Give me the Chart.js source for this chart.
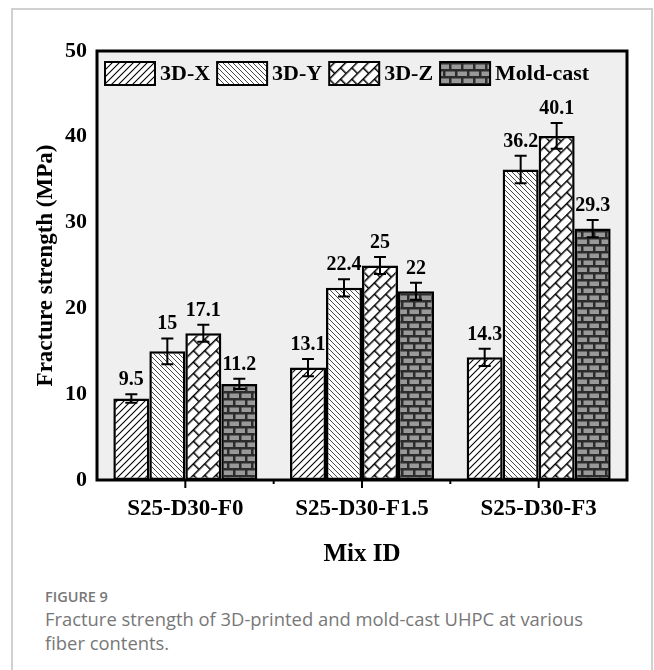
<!DOCTYPE html>
<html>
<head>
<meta charset="utf-8">
<script src="https://cdn.jsdelivr.net/npm/chart.js@4"></script>
<style>
  html, body { margin: 0; padding: 0; background: #fff; }
  #page { position: absolute; left: 0; top: 0; width: 654px; height: 670px; overflow: hidden; }
  #frame { position: absolute; left: 11px; top: 8px; width: 638px; height: 720px;
           border: 2px solid #d0d0d0; border-bottom: none; }
  #wrap { position: absolute; left: 0; top: 0; width: 654px; height: 585px; }
  #cap { position: absolute; left: 45px; top: 587px; font-family: "Open Sans", sans-serif; color: #777; }
  #cap .fig { font-size: 14.5px; font-weight: 600; line-height: 20px; }
  #cap .txt { font-size: 18.4px; line-height: 24px; }
</style>
</head>
<body>
<div id="page">
  <div id="frame"></div>
  <div id="wrap"><canvas id="c" width="654" height="585"></canvas></div>
  <div id="cap">
    <div class="fig">FIGURE 9</div>
    <div class="txt">Fracture strength of 3D-printed and mold-cast UHPC at various<br>fiber contents.</div>
  </div>
</div>
<script>
// Mix designs and measured fracture strength (MPa)
const mixIds = ['S25-D30-F0', 'S25-D30-F1.5', 'S25-D30-F3'];
const seriesNames = ['3D-X', '3D-Y', '3D-Z', 'Mold-cast'];
const strength3DX = [9.5, 13.1, 14.3];
const strength3DY = [15, 22.4, 36.2];
const strength3DZ = [17.1, 25, 40.1];
const strengthMold = [11.2, 22, 29.3];
// Standard deviations shown as error bars
const err3DX = [0.5, 1.0, 1.0];
const err3DY = [1.5, 1.0, 1.6];
const err3DZ = [1.0, 1.0, 1.5];
const errMold = [0.6, 1.0, 1.0];
const yTickValues = [0, 10, 20, 30, 40, 50];

const SERIF = '"Liberation Serif", "Times New Roman", serif';

// ---- fill patterns ----
function tile(w, h, draw) {
  const c = document.createElement('canvas');
  c.width = w; c.height = h;
  draw(c.getContext('2d'), w, h);
  return c;
}
const ctxMain = document.getElementById('c').getContext('2d');

const patX = ctxMain.createPattern(tile(7, 7, (g, w, h) => {
  g.fillStyle = '#fff'; g.fillRect(0, 0, w, h);
  g.strokeStyle = '#000'; g.lineWidth = 1.1;
  g.beginPath();
  g.moveTo(-1, h + 1); g.lineTo(w + 1, -1);
  g.moveTo(-1, 1); g.lineTo(1, -1);
  g.moveTo(w - 1, h + 1); g.lineTo(w + 1, h - 1);
  g.stroke();
}), 'repeat');

const patY = ctxMain.createPattern(tile(5, 5, (g, w, h) => {
  g.fillStyle = '#fff'; g.fillRect(0, 0, w, h);
  g.strokeStyle = '#333'; g.lineWidth = 0.9;
  g.beginPath();
  g.moveTo(-1, -1); g.lineTo(w + 1, h + 1);
  g.moveTo(w - 1, -1); g.lineTo(w + 1, 1);
  g.moveTo(-1, h - 1); g.lineTo(1, h + 1);
  g.stroke();
}), 'repeat');

// diagonal brick: horizontal brick courses rotated by 45 degrees
const patZ = ctxMain.createPattern(tile(16, 16, (g, w, h) => {
  g.fillStyle = '#fff'; g.fillRect(0, 0, w, h);
  g.strokeStyle = '#000'; g.lineWidth = 1.5;
  g.beginPath();
  g.moveTo(0, 0.75); g.lineTo(w, 0.75);
  g.moveTo(0, 8.75); g.lineTo(w, 8.75);
  g.moveTo(0.75, 0); g.lineTo(0.75, 8);
  g.moveTo(8.75, 8); g.lineTo(8.75, 16);
  g.stroke();
}), 'repeat');
patZ.setTransform(new DOMMatrix().rotateSelf(-45));

const patMold = ctxMain.createPattern(tile(24, 14, (g, w, h) => {
  g.fillStyle = '#2c2c2c'; g.fillRect(0, 0, w, h);
  g.fillStyle = '#999';
  [0, 12].forEach(x => g.fillRect(x + 1.5, 1.5, 9.5, 4.5));
  [-6, 6, 18].forEach(x => g.fillRect(x + 1.5, 8.5, 9.5, 4.5));
}), 'repeat');

const fills = [patX, patY, patZ, patMold];
const values = [strength3DX, strength3DY, strength3DZ, strengthMold];
const errors = [err3DX, err3DY, err3DZ, errMold];

// ---- plugins ----
const plotBackground = {
  id: 'plotBackground',
  beforeDatasetsDraw(chart) {
    const { ctx, chartArea: a } = chart;
    ctx.save();
    ctx.fillStyle = '#efefef';
    ctx.fillRect(a.left, a.top, a.right - a.left, a.bottom - a.top);
    ctx.restore();
  }
};

const errorBarsAndLabels = {
  id: 'errorBarsAndLabels',
  afterDatasetsDraw(chart) {
    const { ctx } = chart;
    const y = chart.scales.y;
    ctx.save();
    chart.data.datasets.forEach((ds, di) => {
      const meta = chart.getDatasetMeta(di);
      meta.data.forEach((bar, i) => {
        const v = ds.data[i], e = ds.errors[i];
        const x = bar.x;
        const yTop = y.getPixelForValue(v + e);
        const yBot = y.getPixelForValue(v - e);
        ctx.strokeStyle = '#000';
        ctx.lineWidth = 2;
        ctx.beginPath();
        ctx.moveTo(x, yTop); ctx.lineTo(x, yBot);
        ctx.moveTo(x - 6, yTop); ctx.lineTo(x + 6, yTop);
        ctx.moveTo(x - 6, yBot); ctx.lineTo(x + 6, yBot);
        ctx.stroke();
        ctx.fillStyle = '#000';
        ctx.font = 'bold 20px ' + SERIF;
        ctx.textAlign = 'center';
        ctx.textBaseline = 'alphabetic';
        ctx.fillText(String(v), x, yTop - 9);
      });
    });
    ctx.restore();
  }
};

const frameAndTicks = {
  id: 'frameAndTicks',
  afterDraw(chart) {
    const { ctx, chartArea: a } = chart;
    const xs = chart.scales.x;
    ctx.save();
    ctx.strokeStyle = '#000';
    ctx.lineWidth = 3;
    ctx.strokeRect(a.left, a.top, a.right - a.left, a.bottom - a.top);
    ctx.lineWidth = 2;
    const centers = mixIds.map((_, i) => xs.getPixelForTick(i));
    ctx.beginPath();
    centers.forEach(cx => { ctx.moveTo(cx, a.bottom); ctx.lineTo(cx, a.bottom + 8); });
    for (let i = 0; i < centers.length - 1; i++) {
      const bx = (centers[i] + centers[i + 1]) / 2;
      ctx.moveTo(bx, a.bottom); ctx.lineTo(bx, a.bottom + 4);
    }
    ctx.stroke();
    ctx.restore();
  }
};

const insideLegend = {
  id: 'insideLegend',
  afterDraw(chart) {
    const { ctx, chartArea: a } = chart;
    ctx.save();
    ctx.font = 'bold 22px ' + SERIF;
    ctx.textBaseline = 'middle';
    ctx.textAlign = 'left';
    let x = a.left + 8;
    const top = a.top + 11, bw = 50, bh = 23;
    chart.data.datasets.forEach(ds => {
      ctx.fillStyle = ds.backgroundColor;
      ctx.fillRect(x, top, bw, bh);
      ctx.strokeStyle = '#000';
      ctx.lineWidth = 2;
      ctx.strokeRect(x, top, bw, bh);
      x += bw + 5;
      ctx.fillStyle = '#000';
      ctx.fillText(ds.label, x, top + bh / 2 + 1);
      x += ctx.measureText(ds.label).width + 7;
    });
    ctx.restore();
  }
};

new Chart(document.getElementById('c'), {
  type: 'bar',
  data: {
    labels: mixIds,
    datasets: seriesNames.map((name, k) => ({
      label: name,
      data: values[k],
      errors: errors[k],
      backgroundColor: fills[k],
      borderColor: '#000',
      borderWidth: 2.5,
      borderSkipped: false,
      categoryPercentage: 0.815,
      barPercentage: 1.0
    }))
  },
  options: {
    responsive: false,
    animation: false,
    devicePixelRatio: 1,
    layout: { padding: { top: 51, right: 27, left: 0, bottom: 0 } },
    plugins: { legend: { display: false }, tooltip: { enabled: false } },
    scales: {
      x: {
        grid: { display: false, drawTicks: false },
        border: { display: false },
        ticks: { color: '#000', padding: 15, font: { family: SERIF, size: 23, weight: 'bold' } },
        title: { display: true, text: 'Mix ID', color: '#000',
                 font: { family: SERIF, size: 25, weight: 'bold' }, padding: { top: 0, bottom: 15 } },
        afterFit(s) { s.height = 105; }
      },
      y: {
        min: 0, max: 50,
        grid: { display: false, drawTicks: false },
        border: { display: false },
        afterBuildTicks(s) { s.ticks = yTickValues.map(v => ({ value: v })); },
        ticks: { color: '#000', padding: 10, font: { family: SERIF, size: 22, weight: 'bold' } },
        title: { display: true, text: 'Fracture strength (MPa)', color: '#000',
                 font: { family: SERIF, size: 23, weight: 'bold' }, padding: { top: 32, bottom: 0 } },
        afterFit(s) { s.width = 97; }
      }
    }
  },
  plugins: [plotBackground, errorBarsAndLabels, frameAndTicks, insideLegend]
});
</script>
</body>
</html>
